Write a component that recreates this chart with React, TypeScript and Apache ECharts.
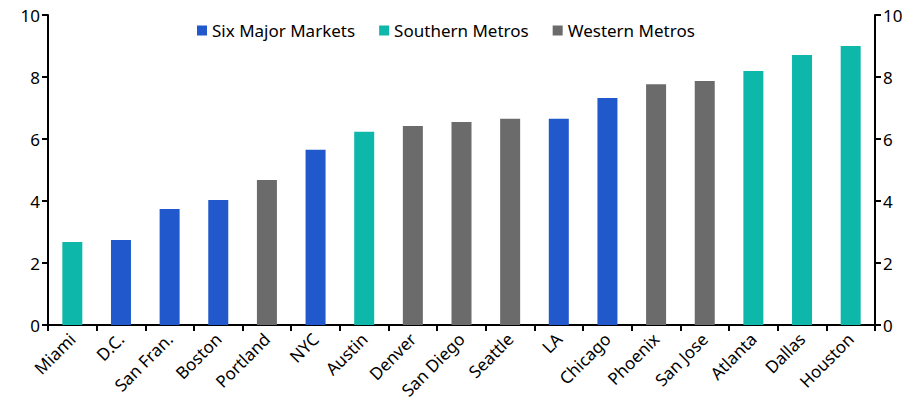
import React, { useEffect, useRef } from "react";
import * as echarts from "echarts";

const categories = ["Miami", "D.C.", "San Fran.", "Boston", "Portland", "NYC", "Austin", "Denver", "San Diego", "Seattle", "LA", "Chicago", "Phoenix", "San Jose", "Atlanta", "Dallas", "Houston"];
const values = [2.68, 2.74, 3.74, 4.03, 4.68, 5.65, 6.23, 6.42, 6.55, 6.65, 6.65, 7.32, 7.77, 7.87, 8.19, 8.71, 9.0];
const groups = ["Southern Metros", "Six Major Markets", "Six Major Markets", "Six Major Markets", "Western Metros", "Six Major Markets", "Southern Metros", "Western Metros", "Western Metros", "Western Metros", "Six Major Markets", "Six Major Markets", "Western Metros", "Western Metros", "Southern Metros", "Southern Metros", "Southern Metros"];
const seriesNames = ["Six Major Markets", "Southern Metros", "Western Metros"];
const seriesColors = ["#2159CC", "#0DB8AA", "#6B6B6B"];
const yTicks = { min: 0, max: 10, interval: 2 };

const FONT = "Noto Sans";

export default function App() {
  const ref = useRef<HTMLDivElement>(null);
  useEffect(() => {
    if (!ref.current) return;
    const chart = echarts.init(ref.current, undefined, { renderer: "svg" });
    const axisCommon = {
      type: "value" as const,
      min: yTicks.min,
      max: yTicks.max,
      interval: yTicks.interval,
      splitLine: { show: false },
      axisLine: { show: true, lineStyle: { color: "#000", width: 2 } },
      axisTick: { show: true, length: 6, lineStyle: { color: "#000", width: 2 } },
      axisLabel: { color: "#000", fontSize: 17, fontFamily: FONT, margin: 8 },
    };
    chart.setOption({
      animation: false,
      textStyle: { fontFamily: FONT },
      legend: {
        top: 22,
        left: 197,
        padding: 0,
        itemWidth: 10,
        itemHeight: 10,
        itemGap: 24,
        icon: "rect",
        textStyle: { color: "#000", fontSize: 17, fontFamily: FONT },
        data: seriesNames,
      },
      grid: { left: 48, right: 42, top: 15, bottom: 91, containLabel: false },
      xAxis: {
        type: "category",
        data: categories,
        boundaryGap: true,
        axisLine: { show: true, lineStyle: { color: "#000", width: 2 } },
        axisTick: { show: true, length: 6, alignWithLabel: false, lineStyle: { color: "#000", width: 2 } },
        axisLabel: { color: "#000", fontSize: 17, fontFamily: FONT, rotate: 45, margin: 11, interval: 0 },
      },
      yAxis: [
        { ...axisCommon, position: "left" },
        { ...axisCommon, position: "right" },
      ],
      series: seriesNames.map((name, si) => ({
        name,
        type: "bar",
        stack: "all",
        barWidth: 20,
        yAxisIndex: 0,
        itemStyle: { color: seriesColors[si] },
        data: values.map((v, i) => (groups[i] === name ? v : null)),
      })),
    });
    return () => chart.dispose();
  }, []);
  return <div ref={ref} style={{ position: "absolute", left: 0, top: 0, width: 917, height: 416 }} />;
}
